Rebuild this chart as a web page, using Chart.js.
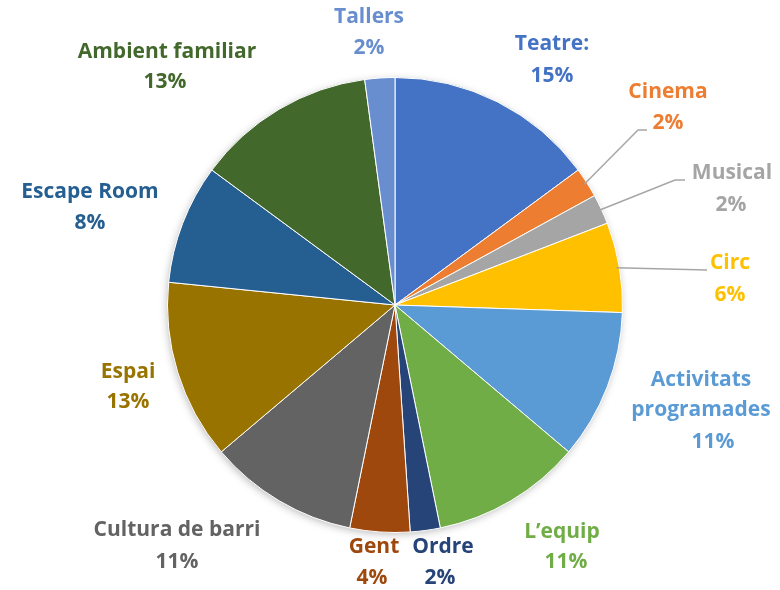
<!DOCTYPE html>
<html>
<head>
<meta charset="utf-8">
<script src="https://cdn.jsdelivr.net/npm/chart.js@4.4.0/dist/chart.umd.min.js"></script>
<style>
  body { margin: 0; background: #fff; }
  #wrap { width: 780px; height: 590px; position: relative; }
</style>
</head>
<body>
<div id="wrap"><canvas id="pie"></canvas></div>
<script>
// responses per category, clockwise from 12 o'clock
const categories = ['Teatre:', 'Cinema', 'Musical', 'Circ', 'Activitats programades', 'L\u2019equip', 'Ordre', 'Gent', 'Cultura de barri', 'Espai', 'Escape Room', 'Ambient familiar', 'Tallers'];
const counts = [7, 1, 1, 3, 5, 5, 1, 2, 5, 6, 4, 6, 1];
// percentages as printed on the chart
const pctLabels = [15, 2, 2, 6, 11, 11, 2, 4, 11, 13, 8, 13, 2];
const sliceColors = ['#4472C4', '#ED7D31', '#A5A5A5', '#FFC000', '#5B9BD5', '#70AD47', '#264478', '#9E480E', '#636363', '#997300', '#255E91', '#43682B', '#698ED0'];

// label layout: center of the name line and center of the percentage line
const namePos = [
    [552, 44], [668, 92], [732, 173], [730, 263], [701, 380], [562, 532], [443, 547],
    [374, 547], [177, 530], [128, 372], [90, 192], [167, 52], [369, 17]
];
const pctPos = [
    [552, 76], [668, 123], [731, 205], [730, 295], [713, 442], [566, 562], [440, 578],
    [372, 578], [177, 562], [128, 402], [90, 223], [165, 82], [369, 48]
];
const leaders = {
    1: [[638, 130], [647, 130]],
    2: [[675, 180], [685, 180]],
    3: [[707, 270]]
};

const labelPlugin = {
    id: 'sliceLabels',
    beforeDatasetsDraw(chart) {
        // soft shadow under the pie
        const a = chart.getDatasetMeta(0).data[0];
        if (!a) return;
        const ctx = chart.ctx;
        ctx.save();
        ctx.shadowColor = 'rgba(0,0,0,0.3)';
        ctx.shadowBlur = 8;
        ctx.shadowOffsetX = -1;
        ctx.shadowOffsetY = 2;
        ctx.fillStyle = '#ffffff';
        ctx.beginPath();
        ctx.arc(a.x, a.y, a.outerRadius - 1, 0, Math.PI * 2);
        ctx.fill();
        ctx.restore();
    },
    afterDraw(chart) {
        const ctx = chart.ctx;
        const arcs = chart.getDatasetMeta(0).data;
        ctx.save();
        // leader lines
        ctx.strokeStyle = '#A6A6A6';
        ctx.lineWidth = 1.5;
        Object.keys(leaders).forEach(k => {
            const i = +k;
            const a = arcs[i].getProps(['x', 'y', 'startAngle', 'endAngle', 'outerRadius'], true);
            const mid = (a.startAngle + a.endAngle) / 2;
            ctx.beginPath();
            ctx.moveTo(a.x + Math.cos(mid) * (a.outerRadius - 3), a.y + Math.sin(mid) * (a.outerRadius - 3));
            leaders[i].forEach(p => ctx.lineTo(p[0], p[1]));
            ctx.stroke();
        });
        // texts
        ctx.font = 'bold 21px "Open Sans", sans-serif';
        ctx.textAlign = 'center';
        ctx.textBaseline = 'middle';
        categories.forEach((name, i) => {
            const lines = name === 'Activitats programades' ? ['Activitats', 'programades'] : [name];
            ctx.fillStyle = sliceColors[i];
            lines.forEach((t, j) => ctx.fillText(t, namePos[i][0], namePos[i][1] + j * 30));
            ctx.fillText(pctLabels[i] + '%', pctPos[i][0], pctPos[i][1]);
        });
        ctx.restore();
    }
};

new Chart(document.getElementById('pie'), {
    type: 'pie',
    data: {
        labels: categories,
        datasets: [{
            data: counts,
            backgroundColor: sliceColors,
            borderColor: '#ffffff',
            borderWidth: 1
        }]
    },
    options: {
        responsive: true,
        maintainAspectRatio: false,
        animation: false,
        layout: { padding: { top: 77, bottom: 57, left: 167, right: 157 } },
        plugins: {
            legend: { display: false },
            tooltip: { enabled: false }
        }
    },
    plugins: [labelPlugin]
});
</script>
</body>
</html>
